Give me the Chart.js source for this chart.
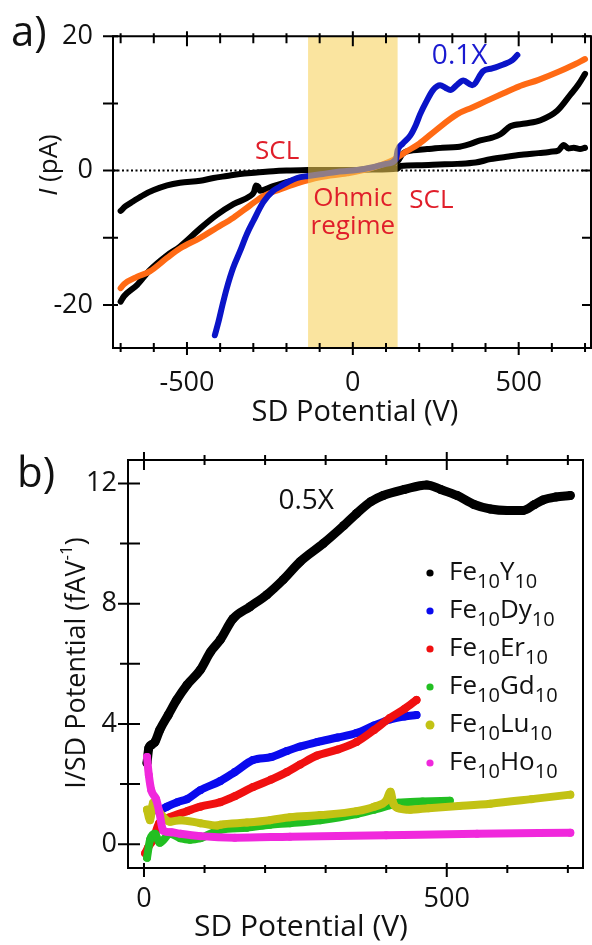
<!DOCTYPE html>
<html><head><meta charset="utf-8">
<script src="https://cdn.jsdelivr.net/npm/chart.js@4.4.1/dist/chart.umd.min.js"></script>
<style>
html,body{margin:0;padding:0;background:#fff;width:592px;height:945px;overflow:hidden}
#ca{position:absolute;left:0;top:0}
#cb{position:absolute;left:0;top:400px}
</style></head>
<body>
<canvas id="ca" width="592" height="440"></canvas>
<canvas id="cb" width="592" height="545"></canvas>
<script>
// ---------------- Panel a data ----------------
const aTickV = [-500, 0, 500];
const aMinorV = [-700,-600,-500,-400,-300,-200,-100,0,100,200,300,400,500,600,700];
const aTickI = [-20, 0, 20];
const aMinorI = [-20,-10,0,10,20];
const aOhmicRange = [-135, 135];

const blueV = [-416,-405,-392,-380,-361,-340,-319,-300,-270,-240,-220,-195,-168,-135,-90,-50,0,60,100,130,135,150,173,190,203,222,242,263,280,294,315,333,360,393,420,454,480,496];
const blueI = [-24.5,-22.5,-19.8,-17.5,-14.5,-12.0,-9.4,-7.5,-4.7,-3.0,-2.4,-1.7,-1.1,-0.8,-0.5,-0.2,0,0.5,1.0,1.7,3.0,4.0,5.2,6.8,8.4,10.3,12.0,12.7,12.3,12.0,12.8,13.4,12.7,14.8,15.2,15.8,16.4,17.2];

const orangeV = [-700,-690,-650,-612,-560,-521,-460,-410,-360,-310,-270,-220,-168,-100,-17,50,122,135,160,200,250,315,360,400,454,500,560,620,660,700];
const orangeI = [-17.5,-16.9,-15.8,-15.0,-13.0,-11.6,-10.0,-8.5,-7.0,-5.2,-3.8,-2.8,-1.9,-1.0,-0.4,0.3,1.6,2.0,2.8,4.0,6.0,8.4,9.4,10.3,11.5,12.5,13.5,14.7,15.6,16.6];

const blackAV = [-700,-690,-650,-612,-560,-521,-460,-410,-360,-310,-298,-292,-285,-280,-240,-200,-135,-60,0,60,135,150,180,224,270,315,350,384,420,445,475,520,566,616,656,680,700];
const blackAI = [-19.5,-18.7,-17.0,-14.8,-12.6,-11.3,-8.6,-6.6,-5.0,-3.8,-3.2,-2.2,-2.4,-3.0,-2.3,-1.7,-0.9,-0.3,0,0.4,1.4,2.5,3.0,3.2,3.4,3.5,3.9,4.5,4.9,5.4,6.6,7.0,7.5,8.9,11.3,12.8,14.4];

const blackBV = [-700,-685,-663,-630,-600,-560,-521,-460,-420,-380,-340,-289,-240,-200,-135,-60,0,60,135,143,200,260,315,370,415,470,515,560,596,620,636,650,666,685,700];
const blackBI = [-6.0,-5.3,-4.6,-3.6,-2.9,-2.2,-1.8,-1.5,-1.1,-0.8,-0.5,-0.3,-0.1,0,0.1,0.1,0.1,0.15,0.3,0.7,0.8,0.9,1.0,1.2,1.7,2.1,2.4,2.6,2.8,3.0,3.8,3.3,3.4,3.2,3.4];

// ---------------- Panel b data ----------------
const bTickV = [0, 500];
const bMinorV = [0,100,200,300,400,500,600,700];
const bTickY = [0, 4, 8, 12];
const bMinorY = [0,2,4,6,8,10,12];
const bSeriesNames = ['Fe10Y10','Fe10Dy10','Fe10Er10','Fe10Gd10','Fe10Lu10','Fe10Ho10'];

const yV = [5,8,12,18,26,40,54,71,93,110,126,147,175,203,230,258,296,330,351,375,395,430,467,490,517,545,572,600,626,645,659,680,704];
const yY = [2.7,3.2,3.3,3.4,3.8,4.3,4.8,5.3,5.8,6.4,6.8,7.5,7.9,8.3,8.8,9.4,10.0,10.6,11.0,11.4,11.6,11.8,11.95,11.8,11.6,11.3,11.15,11.1,11.1,11.3,11.45,11.55,11.6];
const dyV = [24,38,55,71,93,126,150,180,210,236,258,286,320,351,380,406,430,450];
const dyY = [1.1,1.25,1.4,1.5,1.8,2.1,2.4,2.8,2.9,3.1,3.25,3.4,3.55,3.7,3.95,4.15,4.25,4.3];
const erV = [2,7,15,25,43,71,93,126,150,180,210,236,258,286,320,351,380,406,430,450];
const erY = [-0.3,-0.1,0.15,0.7,0.9,1.1,1.25,1.4,1.6,1.9,2.15,2.4,2.65,2.95,3.15,3.4,3.8,4.2,4.5,4.8];
const gdV = [5,10,18,26,43,60,76,93,126,170,208,241,291,351,380,406,420,460,505];
const gdY = [-0.45,0.15,0.35,0.05,0.35,0.2,0.15,0.2,0.48,0.55,0.65,0.7,0.8,1.0,1.15,1.3,1.38,1.42,1.45];
const luV = [5,10,15,26,43,60,93,121,126,170,208,241,291,351,380,400,407,412,420,440,470,520,572,640,704];
const luY = [1.15,0.8,1.38,1.05,0.75,0.8,0.7,0.62,0.65,0.72,0.8,0.9,0.97,1.1,1.25,1.45,1.75,1.35,1.2,1.15,1.2,1.27,1.35,1.5,1.65];
const hoV = [5,8,12,20,25,32,45,60,93,150,241,400,550,704];
const hoY = [2.9,2.3,1.8,1.5,1.1,0.45,0.4,0.35,0.27,0.22,0.25,0.3,0.35,0.38];

// ---------------- helpers ----------------
const FONT = "'Open Sans', 'Noto Sans', sans-serif";
const RED = '#e01e2a';
const zip = (xs, ys) => xs.map((v, i) => ({x: v, y: ys[i]}));
const lineDs = (label, xs, ys, color, width, order, pr) => ({
  label, data: zip(xs, ys), borderColor: color, backgroundColor: color,
  borderWidth: width, pointRadius: pr || 0, pointBorderWidth: 0, pointHoverRadius: 0,
  cubicInterpolationMode: 'monotone', borderCapStyle: 'round', borderJoinStyle: 'round',
  fill: false, order
});
function drawRich(ctx, parts, x, y, align) {
  let w = 0;
  parts.forEach(p => { ctx.font = p.font; w += ctx.measureText(p.t).width; });
  let cx = align === 'center' ? x - w / 2 : x;
  ctx.textAlign = 'left';
  parts.forEach(p => { ctx.font = p.font; ctx.fillText(p.t, cx, y + (p.dy || 0)); cx += ctx.measureText(p.t).width; });
}
function frameTicks(cfg) {
  return {
    id: 'frameTicks',
    afterDraw(chart) {
      const {ctx, chartArea: ca, scales: {x, y}} = chart;
      ctx.save();
      ctx.strokeStyle = '#000'; ctx.lineWidth = 2; ctx.setLineDash([]);
      ctx.beginPath();
      ctx.rect(ca.left, ca.top, ca.right - ca.left, ca.bottom - ca.top);
      ctx.stroke();
      ctx.beginPath();
      const seg = (x1, y1, x2, y2) => { ctx.moveTo(x1, y1); ctx.lineTo(x2, y2); };
      cfg.xMinor.forEach(v => {
        const px = x.getPixelForValue(v);
        const mj = cfg.xMajor.includes(v);
        const b = mj ? cfg.bottom[0] : cfg.bottom[1];
        seg(px, ca.bottom + b[0], px, ca.bottom - b[1]);
        const t = mj ? cfg.top[0] : cfg.top[1];
        seg(px, ca.top - t[0], px, ca.top + t[1]);
      });
      cfg.yMinor.forEach(v => {
        const py = y.getPixelForValue(v);
        const mj = cfg.yMajor.includes(v);
        const l = mj ? cfg.left[0] : cfg.left[1];
        seg(ca.left - l[0], py, ca.left + l[1], py);
        if (cfg.right) { const r = mj ? cfg.right[0] : cfg.right[1]; seg(ca.right + r[0], py, ca.right - r[1], py); }
      });
      ctx.stroke();
      ctx.restore();
    }
  };
}
const tickFont = {family: FONT, size: 27};
const fixedTicks = arr => (s => { s.ticks = arr.map(v => ({value: v})); });

// ---------------- Panel a ----------------
const panelA = {
  id: 'panelA',
  beforeDatasetsDraw(chart) {
    const {ctx, chartArea: ca, scales: {y}} = chart;
    ctx.save();
    ctx.strokeStyle = '#000'; ctx.lineWidth = 2; ctx.setLineDash([2, 2.5]);
    const y0 = y.getPixelForValue(0);
    ctx.beginPath(); ctx.moveTo(ca.left, y0); ctx.lineTo(ca.right, y0); ctx.stroke();
    ctx.restore();
  },
  afterDatasetsDraw(chart) {
    const {ctx, chartArea: ca, scales: {x}} = chart;
    ctx.save();
    ctx.fillStyle = 'rgba(246,207,84,0.56)';
    const x1 = x.getPixelForValue(aOhmicRange[0]), x2 = x.getPixelForValue(aOhmicRange[1]);
    ctx.fillRect(x1, ca.top, x2 - x1, ca.bottom - ca.top);
    ctx.restore();
  },
  afterDraw(chart) {
    const {ctx, chartArea: ca, scales: {x, y}} = chart;
    ctx.save();
    ctx.textBaseline = 'alphabetic';
    const notes = [
      {t: 'SCL', v: -228, i: 1.8, c: RED, s: 26},
      {t: 'Ohmic', v: 0, i: -5.2, c: RED, s: 26},
      {t: 'regime', v: 0, i: -9.4, c: RED, s: 26},
      {t: 'SCL', v: 237, i: -5.6, c: RED, s: 26},
      {t: '0.1X', v: 322, i: 15.9, c: '#1a1ad0', s: 28}
    ];
    notes.forEach(n => {
      ctx.fillStyle = n.c; ctx.font = `${n.s}px ${FONT}`; ctx.textAlign = 'center';
      ctx.fillText(n.t, x.getPixelForValue(n.v), y.getPixelForValue(n.i));
    });
    ctx.fillStyle = '#111';
    ctx.font = `42px ${FONT}`; ctx.textAlign = 'left';
    ctx.fillText('a)', 11, 46);
    // axis titles
    drawRich(ctx, [{t: 'SD Potential (V)', font: `29px ${FONT}`}], (ca.left + ca.right) / 2 + 3, 421, 'center');
    ctx.translate(50, 165); ctx.rotate(-Math.PI / 2); ctx.textBaseline = 'middle';
    drawRich(ctx, [{t: 'I', font: `italic 26px ${FONT}`}, {t: ' (pA)', font: `26px ${FONT}`}], 0, 0, 'center');
    ctx.restore();
  }
};

new Chart(document.getElementById('ca'), {
  type: 'line',
  data: {datasets: [
    lineDs('Sample ×0.1 (blue)', blueV, blueI, '#0a14c8', 6, 1),
    lineDs('Sample (orange)', orangeV, orangeI, '#ff6a14', 6, 2),
    lineDs('Sample (black, A)', blackAV, blackAI, '#000000', 6, 3),
    lineDs('Sample (black, B)', blackBV, blackBI, '#000000', 6, 4)
  ]},
  options: {
    responsive: false, animation: false, events: [],
    layout: {padding: {top: 18, right: 1, left: 0, bottom: 0}},
    plugins: {legend: {display: false}, tooltip: {enabled: false}},
    scales: {
      x: {type: 'linear', min: -723, max: 718,
        grid: {display: false, drawTicks: false}, border: {display: false},
        afterBuildTicks: fixedTicks(aTickV), afterFit: s => { s.height = 92; },
        ticks: {padding: 19, font: tickFont, color: '#111', maxRotation: 0, autoSkip: false, callback: v => String(v)}},
      y: {type: 'linear', min: -26.4, max: 20,
        grid: {display: false, drawTicks: false}, border: {display: false},
        afterBuildTicks: fixedTicks(aTickI), afterFit: s => { s.width = 113; },
        ticks: {padding: 20, font: tickFont, color: '#111', autoSkip: false, callback: v => String(v)}}
    }
  },
  plugins: [panelA, frameTicks({
    xMajor: aTickV, xMinor: aMinorV, yMajor: aTickI, yMinor: aMinorI,
    bottom: [[7, 6], [4, 5]], top: [[5, 10], [3, 7]],
    left: [[10, 5], [10, 5]], right: [[0, 9], [0, 9]]
  })]
});

// ---------------- Panel b ----------------
const bColors = ['#000000', '#0a0aee', '#f01010', '#22bf22', '#c2c214', '#f028dc'];
const panelB = {
  id: 'panelB',
  afterDraw(chart) {
    const {ctx, scales: {x, y}} = chart;
    ctx.save();
    ctx.textBaseline = 'alphabetic';
    ctx.fillStyle = '#111'; ctx.font = `28px ${FONT}`; ctx.textAlign = 'center';
    ctx.fillText('0.5X', x.getPixelForValue(268), y.getPixelForValue(11.14));
    ctx.font = `42px ${FONT}`; ctx.textAlign = 'left';
    ctx.fillText('b)', 17, 87);
    // legend
    chart.data.datasets.forEach((ds, i) => {
      const cy = 173 + 38 * i;
      ctx.fillStyle = ds.borderColor;
      ctx.beginPath(); ctx.arc(430, cy, i === 4 ? 4.5 : 3.6, 0, Math.PI * 2); ctx.fill();
      ctx.fillStyle = '#111';
      const parts = ds.label.split(/(\d+)/).filter(s => s).map(s =>
        /^\d+$/.test(s) ? {t: s, font: `20px ${FONT}`, dy: 8} : {t: s, font: `26px ${FONT}`});
      drawRich(ctx, parts, 449, cy + 7, 'left');
    });
    // axis titles
    ctx.fillStyle = '#111';
    drawRich(ctx, [{t: 'SD Potential (V)', font: `30px ${FONT}`}], 301, 536, 'center');
    ctx.translate(77, 263); ctx.rotate(-Math.PI / 2); ctx.textBaseline = 'middle';
    drawRich(ctx, [{t: 'I/SD Potential (fAV', font: `27px ${FONT}`}, {t: '-1', font: `17px ${FONT}`, dy: -10}, {t: ')', font: `27px ${FONT}`}], 0, 0, 'center');
    ctx.restore();
  }
};
const bData = [[yV, yY], [dyV, dyY], [erV, erY], [gdV, gdY], [luV, luY], [hoV, hoY]];
new Chart(document.getElementById('cb'), {
  type: 'line',
  data: {datasets: bSeriesNames.map((n, i) =>
    lineDs(n, bData[i][0], bData[i][1], bColors[i], i === 0 ? 9 : 8, 6 - i, i === 0 ? 4.5 : 4))},
  options: {
    responsive: false, animation: false, events: [],
    layout: {padding: {top: 60, right: 9, left: 0, bottom: 0}},
    plugins: {legend: {display: false}, tooltip: {enabled: false}},
    scales: {
      x: {type: 'linear', min: -26.4, max: 725,
        grid: {display: false, drawTicks: false}, border: {display: false},
        afterBuildTicks: fixedTicks(bTickV), afterFit: s => { s.height = 77; },
        ticks: {padding: 15, font: tickFont, color: '#111', maxRotation: 0, autoSkip: false, callback: v => String(v)}},
      y: {type: 'linear', min: -0.79, max: 12.78,
        grid: {display: false, drawTicks: false}, border: {display: false},
        afterBuildTicks: fixedTicks(bTickY), afterFit: s => { s.width = 128; },
        ticks: {padding: 11, font: tickFont, color: '#111', autoSkip: false, callback: v => String(v)}}
    }
  },
  plugins: [panelB, frameTicks({
    xMajor: bTickV, xMinor: bMinorV, yMajor: bTickY, yMinor: bMinorY,
    bottom: [[9, 5], [5, 3]], top: [[8, 10], [5, 5]],
    left: [[10, 12], [8, 12]], right: null
  })]
});
</script>
</body></html>
